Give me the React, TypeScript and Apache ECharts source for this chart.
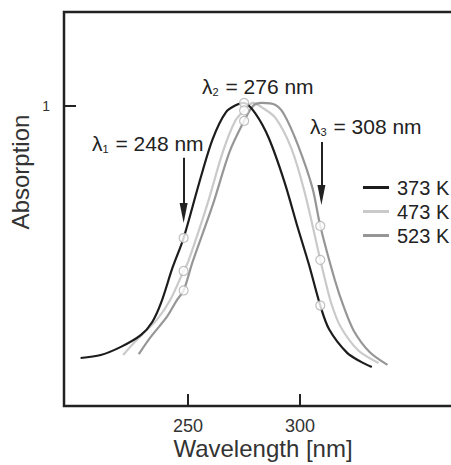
import React, { useEffect, useRef } from "react";
import * as echarts from "echarts";

// ---- data ----
const seriesNames = ["373 K", "473 K", "523 K"];
const seriesColors = ["#1c1c1c", "#cacaca", "#969696"];

const nm373 = [202, 211, 220, 229, 234, 238, 243, 248, 255, 261, 267, 272, 275, 280, 286, 293, 299, 304, 309, 313, 321, 327, 332];
const abs373 = [0.16, 0.17, 0.197, 0.237, 0.28, 0.345, 0.46, 0.56, 0.745, 0.89, 0.98, 1.005, 1.01, 0.975, 0.893, 0.747, 0.593, 0.47, 0.335, 0.255, 0.177, 0.148, 0.13];

const nm473 = [221, 227, 236, 242, 248, 250, 258.5, 265.5, 271, 275, 279, 283, 289, 296, 302, 309, 311, 314, 318, 326, 335];
const abs473 = [0.17, 0.22, 0.287, 0.353, 0.45, 0.48, 0.67, 0.847, 0.95, 0.985, 1.01, 0.995, 0.96, 0.86, 0.713, 0.487, 0.425, 0.34, 0.265, 0.185, 0.143];

const nm523 = [228, 233, 240.5, 245, 248, 252, 261, 268.5, 275, 279, 283, 289, 293, 299, 305.5, 309, 315.5, 319.5, 324, 331, 339];
const abs523 = [0.173, 0.227, 0.297, 0.353, 0.385, 0.48, 0.67, 0.847, 0.95, 1.0, 1.01, 1.003, 0.97, 0.87, 0.727, 0.6, 0.42, 0.33, 0.25, 0.18, 0.137];

// marked wavelengths (as placed in the picture) and the values of the curves there
const markNm = [248, 275, 309];
const markAbs373 = [0.56, 1.01, 0.335];
const markAbs473 = [0.45, 0.985, 0.487];
const markAbs523 = [0.385, 0.95, 0.6];

// arrows: [x, start value, end value]
const arrow1 = [248, 0.827, 0.643];
const arrow3 = [309.5, 0.88, 0.703];

const xTicks = [250, 300];
const yTicks = [1];

const FONT = "'Liberation Sans', Arial, Helvetica, sans-serif";

function zip(xs: number[], ys: number[]) {
  return xs.map((x, i) => [x, ys[i]]);
}

export default function App() {
  const ref = useRef<HTMLDivElement>(null);

  useEffect(() => {
    if (!ref.current) return;
    const chart = echarts.init(ref.current, null, { renderer: "svg" });

    const markers: number[][] = [];
    markNm.forEach((x, i) => {
      markers.push([x, markAbs373[i]]);
      markers.push([x, markAbs473[i]]);
      markers.push([x, markAbs523[i]]);
    });

    const lineSeries = [
      { name: seriesNames[0], data: zip(nm373, abs373), color: seriesColors[0], z: 4 },
      { name: seriesNames[1], data: zip(nm473, abs473), color: seriesColors[1], z: 2 },
      { name: seriesNames[2], data: zip(nm523, abs523), color: seriesColors[2], z: 3 },
    ].map((s) => ({
      type: "line",
      name: s.name,
      data: s.data,
      smooth: 0.3,
      showSymbol: false,
      symbol: "none",
      z: s.z,
      itemStyle: { color: s.color },
      lineStyle: { color: s.color, width: 2.2 },
    }));

    const option: any = {
      animation: false,
      textStyle: { fontFamily: FONT },
      grid: {
        left: 64,
        top: 12,
        right: 0,
        bottom: 59,
        show: true,
        borderColor: "#222",
        borderWidth: 2.5,
        backgroundColor: "transparent",
      },
      xAxis: {
        type: "value",
        min: 194.6,
        max: 380.3,
        axisLine: { show: false },
        splitLine: { show: false },
        axisTick: {
          inside: true,
          length: 12,
          customValues: xTicks,
          lineStyle: { color: "#222", width: 2 },
        },
        axisLabel: {
          customValues: xTicks,
          fontSize: 18,
          color: "#333",
          margin: 11,
          fontFamily: FONT,
        },
      },
      yAxis: {
        type: "value",
        min: 0,
        max: 1.313,
        axisLine: { show: false },
        splitLine: { show: false },
        axisTick: {
          inside: true,
          length: 12,
          customValues: yTicks,
          lineStyle: { color: "#222", width: 2 },
        },
        axisLabel: {
          customValues: yTicks,
          fontSize: 14,
          color: "#333",
          margin: 14,
          fontFamily: FONT,
        },
      },
      legend: {
        data: seriesNames,
        orient: "vertical",
        left: 358,
        top: 172,
        icon: "rect",
        itemWidth: 26,
        itemHeight: 3,
        itemGap: 3,
        textStyle: { fontSize: 20, color: "#222", fontFamily: FONT, lineHeight: 21, padding: [0, 0, 0, 3] },
      },
      series: [
        ...lineSeries,
        {
          type: "scatter",
          name: "marks",
          data: markers,
          symbol: "circle",
          symbolSize: 9,
          z: 6,
          itemStyle: { color: "#ffffff", borderColor: "#b0b0b0", borderWidth: 1.2 },
          silent: true,
          markLine: {
            silent: true,
            label: { show: false },
            lineStyle: { color: "#222", width: 2, type: "solid" },
            data: [
              [
                { coord: [arrow1[0], arrow1[1]], symbol: "none", symbolSize: 1 },
                { coord: [arrow1[0], arrow1[2]], symbol: "triangle", symbolSize: [8, 20] },
              ],
              [
                { coord: [arrow3[0], arrow3[1]], symbol: "none", symbolSize: 1 },
                { coord: [arrow3[0], arrow3[2]], symbol: "triangle", symbolSize: [8, 20] },
              ],
            ],
            itemStyle: { color: "#222" },
          },
        },
      ],
      graphic: [
        {
          type: "text",
          x: 20,
          y: 172,
          rotation: Math.PI / 2,
          style: {
            text: "Absorption",
            fontSize: 24,
            fontFamily: FONT,
            fill: "#333",
            align: "center",
            verticalAlign: "middle",
          },
        },
        {
          type: "text",
          x: 263,
          y: 448,
          style: {
            text: "Wavelength [nm]",
            fontSize: 24,
            fontFamily: FONT,
            fill: "#333",
            align: "center",
            verticalAlign: "middle",
          },
        },
        ...[
          { x: 92, y: 142, sub: "1", val: "248" },
          { x: 202, y: 85, sub: "2", val: "276" },
          { x: 310, y: 125, sub: "3", val: "308" },
        ].map((l) => ({
          type: "text",
          x: l.x,
          y: l.y,
          z: 10,
          style: {
            text: `{l|λ}{s|${l.sub}}{l| = ${l.val} nm}`,
            align: "left",
            verticalAlign: "middle",
            rich: {
              l: { fontSize: 21, fontFamily: FONT, fill: "#222", color: "#222", verticalAlign: "bottom", lineHeight: 24 },
              s: { fontSize: 11, fontFamily: FONT, fill: "#222", color: "#222", verticalAlign: "bottom", lineHeight: 14, padding: [0, 1, 0, 0] },
            },
          },
        })),
      ],
    };

    chart.setOption(option);
    return () => chart.dispose();
  }, []);

  return (
    <div
      ref={ref}
      style={{ position: "fixed", left: 0, top: 0, width: 480, height: 465, background: "#fff" }}
    />
  );
}
